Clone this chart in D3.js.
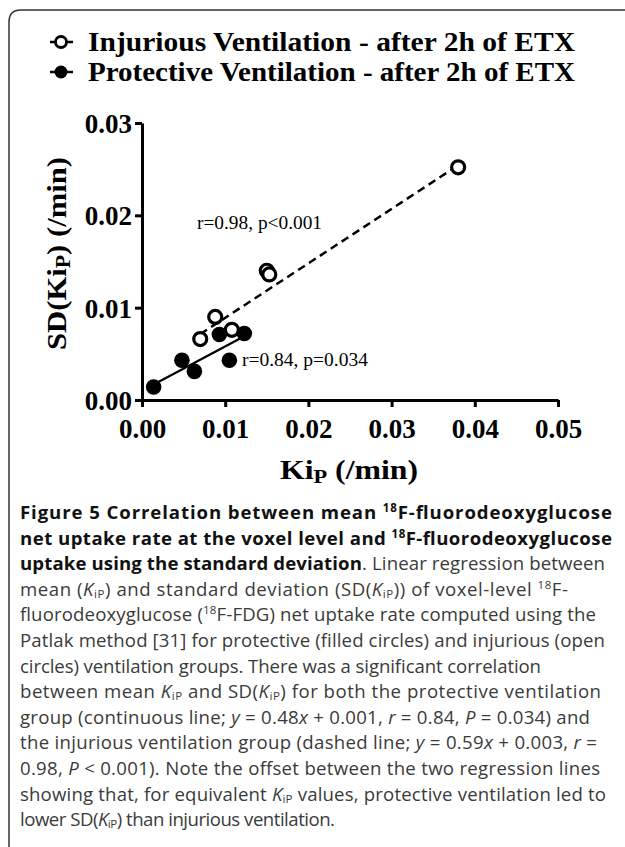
<!DOCTYPE html>
<html><head><meta charset="utf-8">
<script src="https://cdn.jsdelivr.net/npm/d3@7/dist/d3.min.js"></script>
<style>body{margin:0;background:#fff}svg{display:block}</style>
</head><body>
<svg id="c" width="625" height="847"></svg>
<script>
// ---- data ----
const injuriousKi = [0.0070, 0.0088, 0.0108, 0.0150, 0.0153, 0.0380];
const injuriousSD = [0.0066, 0.0090, 0.0076, 0.0140, 0.0136, 0.0252];
const protectiveKi = [0.0014, 0.0048, 0.0063, 0.0093, 0.0105, 0.0123];
const protectiveSD = [0.0014, 0.0043, 0.0031, 0.0071, 0.0043, 0.0072];
const injuriousFit = {slope: 0.59, intercept: 0.003};
const protectiveFit = {slope: 0.48, intercept: 0.001};
const xTicks = [0, 0.01, 0.02, 0.03, 0.04, 0.05];
const yTicks = [0, 0.01, 0.02, 0.03];
const legendLabels = ["Injurious Ventilation - after 2h of ETX", "Protective Ventilation - after 2h of ETX"];
const annotations = ["r=0.98, p<0.001", "r=0.84, p=0.034"];

const svg = d3.select("#c");
// frame
svg.append("path").attr("d","M9,860 L9,22 Q9,10 21,10 L640,10")
  .attr("fill","none").attr("stroke","#333").attr("stroke-width",1.5);

const x = d3.scaleLinear().domain([0,0.05]).range([142,558]);
const y = d3.scaleLinear().domain([0,0.03]).range([400,123]);
const serif = "'Liberation Serif','Times New Roman',serif";

// axes
const xa = svg.append("g").attr("transform","translate(0,400)")
  .call(d3.axisBottom(x).tickValues(xTicks).tickFormat(d3.format(".2f")).tickSize(7).tickSizeOuter(0));
const ya = svg.append("g").attr("transform","translate(142,0)")
  .call(d3.axisLeft(y).tickValues(yTicks).tickFormat(d3.format(".2f")).tickSize(7).tickSizeOuter(0));
[xa,ya].forEach(g=>{
  g.select(".domain").attr("stroke","#000").attr("stroke-width",3);
  g.selectAll(".tick line").attr("stroke","#000").attr("stroke-width",3);
  g.selectAll(".tick text").attr("fill","#000").attr("font-family",serif)
   .attr("font-weight","bold").attr("font-size",27);
});
xa.selectAll(".tick text").attr("dy",null).attr("y",38);
ya.selectAll(".tick text").attr("x",-10).attr("dy","0.35em");

// axis titles
const xl = svg.append("text").attr("x",280).attr("y",479)
  .attr("font-family",serif).attr("font-weight","bold").attr("font-size",27)
  .attr("textLength",138).attr("lengthAdjust","spacingAndGlyphs");
xl.append("tspan").text("Ki");
xl.append("tspan").attr("font-size",19).attr("dy",4).text("P");
xl.append("tspan").attr("dy",-4).text(" (/min)");
const yl = svg.append("text").attr("transform","translate(66,350) rotate(-90)")
  .attr("font-family",serif).attr("font-weight","bold").attr("font-size",28)
  .attr("textLength",193).attr("lengthAdjust","spacingAndGlyphs");
yl.append("tspan").text("SD(Ki");
yl.append("tspan").attr("font-size",20).attr("dy",4).text("P");
yl.append("tspan").attr("dy",-4).text(") (/min)");

// regression lines
function fitLine(xs, fit){ const e=d3.extent(xs); return e.map(v=>[v, fit.slope*v+fit.intercept]); }
const line = d3.line().x(d=>x(d[0])).y(d=>y(d[1]));
svg.append("path").datum(fitLine(injuriousKi, injuriousFit)).attr("d",line)
  .attr("fill","none").attr("stroke","#000").attr("stroke-width",2.5).attr("stroke-dasharray","8,5");
svg.append("path").datum(fitLine(protectiveKi, protectiveFit)).attr("d",line)
  .attr("fill","none").attr("stroke","#000").attr("stroke-width",2.2);

// points
svg.append("g").selectAll("circle").data(injuriousKi.map((v,i)=>[v,injuriousSD[i]])).join("circle")
  .attr("cx",d=>x(d[0])).attr("cy",d=>y(d[1])).attr("r",6.5)
  .attr("fill","#fff").attr("stroke","#000").attr("stroke-width",3.2);
svg.append("g").selectAll("circle").data(protectiveKi.map((v,i)=>[v,protectiveSD[i]])).join("circle")
  .attr("cx",d=>x(d[0])).attr("cy",d=>y(d[1])).attr("r",7.8).attr("fill","#000");

// annotations
svg.append("text").attr("x",197).attr("y",229).attr("font-family",serif).attr("font-size",18.5)
  .attr("textLength",125).attr("lengthAdjust","spacingAndGlyphs").text(annotations[0]);
svg.append("text").attr("x",242).attr("y",366).attr("font-family",serif).attr("font-size",18.5)
  .attr("textLength",126).attr("lengthAdjust","spacingAndGlyphs").text(annotations[1]);

// legend
const lg = svg.append("g");
legendLabels.forEach((t,i)=>{
  const cy = 42 + i*30;
  lg.append("line").attr("x1",50).attr("x2",73).attr("y1",cy).attr("y2",cy).attr("stroke","#000").attr("stroke-width",2.5);
  lg.append("circle").attr("cx",61).attr("cy",cy).attr("r",i===0?5.5:6.5)
    .attr("fill",i===0?"#fff":"#000").attr("stroke","#000").attr("stroke-width",i===0?2.8:0);
  lg.append("text").attr("x",88).attr("y",cy+9).attr("font-family",serif).attr("font-weight","bold")
    .attr("font-size",28).attr("textLength",487).attr("lengthAdjust","spacingAndGlyphs").text(t);
});

// caption
const cap = [
  [["b","Figure 5 Correlation between mean "],["bsup","18"],["b","F-fluorodeoxyglucose"]],
  [["b","net uptake rate at the voxel level and "],["bsup","18"],["b","F-fluorodeoxyglucose"]],
  [["b","uptake using the standard deviation"],["n",". Linear regression between"]],
  [["n","mean ("],["i","K"],["sub","iP"],["n",") and standard deviation (SD("],["i","K"],["sub","iP"],["n",")) of voxel-level "],["sup","18"],["n","F-"]],
  [["n","fluorodeoxyglucose ("],["sup","18"],["n","F-FDG) net uptake rate computed using the"]],
  [["n","Patlak method [31] for protective (filled circles) and injurious (open"]],
  [["n","circles) ventilation groups. There was a significant correlation"]],
  [["n","between mean "],["i","K"],["sub","iP"],["n"," and SD("],["i","K"],["sub","iP"],["n",") for both the protective ventilation"]],
  [["n","group (continuous line; "],["i","y"],["n"," = 0.48"],["i","x"],["n"," + 0.001, "],["i","r"],["n"," = 0.84, "],["i","P"],["n"," = 0.034) and"]],
  [["n","the injurious ventilation group (dashed line; "],["i","y"],["n"," = 0.59"],["i","x"],["n"," + 0.003, "],["i","r"],["n"," ="]],
  [["n","0.98, "],["i","P"],["n"," < 0.001). Note the offset between the two regression lines"]],
  [["n","showing that, for equivalent "],["i","K"],["sub","iP"],["n"," values, protective ventilation led to"]],
  [["n","lower SD("],["i","K"],["sub","iP"],["n",") than injurious ventilation."]]
];
const capEnds = [612, 612, 605, 568, 596, 605, 541, 601, 590, 597, 600, 606, 335];
const fs = 18.6;
cap.forEach((segs,i)=>{
  const t = svg.append("text").attr("x",20).attr("y",519+i*25.6)
    .attr("font-family","'Open Sans','Noto Sans',sans-serif").attr("font-size",fs).attr("fill","#3a3a3a")
    .attr("textLength",capEnds[i]-20).attr("lengthAdjust","spacing");
  segs.forEach(([k,s])=>{
    const ts = t.append("tspan").text(s);
    if(k==="b") ts.attr("font-weight","bold").attr("fill","#111");
    if(k==="bsup") ts.attr("font-weight","bold").attr("fill","#111").attr("font-size",fs*0.62).attr("baseline-shift","55%");
    if(k==="sup") ts.attr("font-size",fs*0.62).attr("baseline-shift","55%");
    if(k==="sub") ts.attr("font-size",fs*0.62).attr("baseline-shift","-15%");
    if(k==="i") ts.attr("font-style","italic");
  });
});
</script>
</body></html>
